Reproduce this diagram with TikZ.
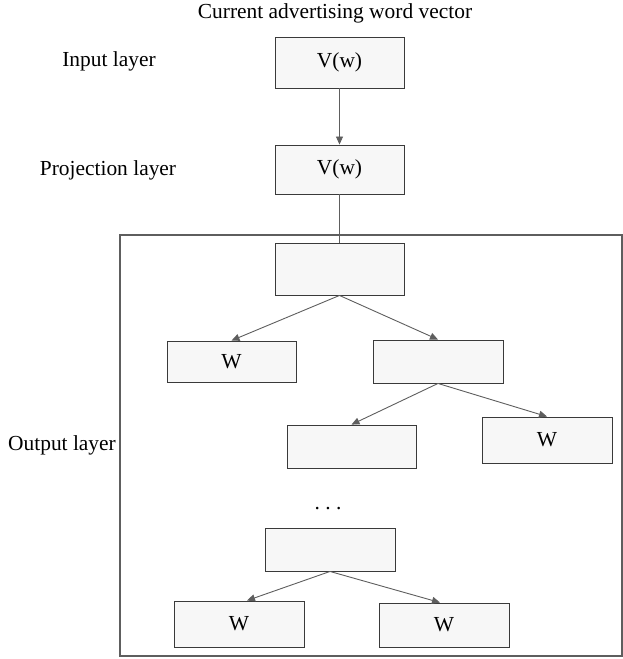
\documentclass[tikz,border=0pt]{standalone}
\usepackage{fontspec}
\setmainfont{Liberation Serif}
\usetikzlibrary{arrows.meta}
\definecolor{boxfill}{HTML}{F7F7F7}
\definecolor{boxline}{HTML}{3A3A3A}
\definecolor{linkgray}{HTML}{5E5E5E}
\begin{document}
\begin{tikzpicture}[x=1bp,y=-1bp,font=\fontsize{21.5}{26}\selectfont,
  >={Triangle[length=8bp,width=7bp]},
  box/.style={draw=boxline,fill=boxfill,line width=0.9bp,inner sep=0pt,
    minimum width=129bp,minimum height=44bp},
  link/.style={draw=linkgray,line width=0.9bp},
  lbl/.style={inner sep=0pt,anchor=base}]
\useasboundingbox (0,0) rectangle (623,659);
% labels on the left and on top
\node[lbl] (title) at (335,19) {Current advertising word vector};
\node[lbl] (inlbl) at (109,67) {Input layer};
\node[lbl] (projlbl) at (108,175) {Projection layer};
\node[lbl] (outlbl) at (62,450) {Output layer};
% output layer frame
\node[draw=linkgray,line width=1.1bp,minimum width=502bp,minimum height=421bp,
  inner sep=0pt] (outframe) at (371,445.5) {};
% boxes
\node[box,minimum height=51bp] (input) at (339.5,62.5) {V(w)};
\node[box,minimum height=49bp] (proj) at (339.5,169.5) {V(w)};
\node[box,minimum height=52bp] (root) at (339.5,269) {};
\node[box,minimum height=41bp] (wa) at (231.5,361.5) {W};
\node[box,minimum height=43bp,minimum width=130bp] (hidA) at (438,361.5) {};
\node[box,minimum height=43bp] (hidB) at (351.5,446.5) {};
\node[box,minimum height=46bp,minimum width=130bp] (wb) at (547,440) {W};
\node[lbl] (dots) at (328,509) {.\ .\ .};
\node[box,minimum height=43bp,minimum width=130bp] (hidC) at (330,549.5) {};
\node[box,minimum height=46bp,minimum width=130bp] (wc) at (239,624) {W};
\node[box,minimum height=44bp,minimum width=130bp] (wd) at (444,625) {W};
% connectors
\draw[link,->] (input) -- (proj);
\draw[link] (proj) -- (root);
\draw[link,->] (root.south) -- (wa.north);
\draw[link,->] (root.south) -- (hidA.north);
\draw[link,->] (hidA.south) -- (hidB.north);
\draw[link,->] (hidA.south) -- (wb.north);
\draw[link,->] (hidC.south) -- ([xshift=8bp]wc.north);
\draw[link,->] (hidC.south) -- ([xshift=-4bp]wd.north);
\end{tikzpicture}
\end{document}
